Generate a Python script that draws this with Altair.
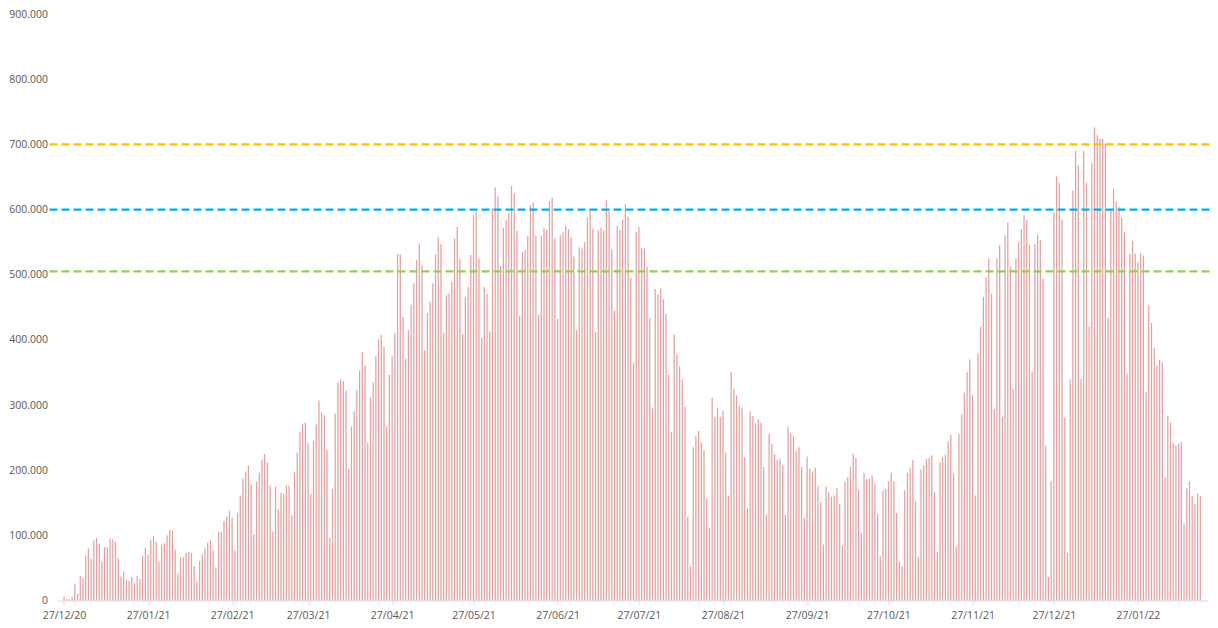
import altair as alt
import pandas as pd

# Daily values (thousands), one list per calendar month
dec20 = [6, 2, 2, 5, 26]
jan21 = [10, 38, 35, 69, 80, 64, 92, 96, 87, 60, 82, 82, 95, 94, 90, 65, 37, 44, 32, 30,
         36, 26, 38, 33, 69, 81, 71, 93, 99, 90, 59]
feb21 = [86, 88, 100, 108, 107, 78, 42, 66, 66, 73, 74, 73, 53, 29, 61, 71, 80, 89, 93, 77,
         51, 105, 106, 122, 129, 138, 127, 77]
mar21 = [135, 161, 187, 198, 207, 178, 102, 182, 196, 216, 225, 212, 177, 106, 175, 140, 165,
         164, 176, 176, 131, 197, 227, 258, 271, 273, 242, 164, 245, 270, 307]
apr21 = [289, 284, 231, 96, 171, 287, 335, 339, 337, 322, 202, 267, 290, 323, 353, 381, 361,
         242, 312, 335, 375, 401, 407, 389, 267, 346, 375, 411, 532, 531]
may21 = [435, 371, 415, 454, 487, 523, 548, 515, 384, 441, 459, 487, 531, 557, 547, 411, 468,
         471, 489, 556, 573, 525, 409, 466, 481, 530, 591, 597, 525, 403, 481]
jun21 = [470, 413, 602, 634, 620, 513, 572, 584, 595, 636, 625, 567, 437, 535, 538, 559, 607,
         611, 560, 438, 560, 572, 569, 613, 618, 556, 432, 561, 565, 575]
jul21 = [570, 557, 528, 415, 542, 540, 550, 587, 601, 571, 412, 568, 572, 568, 615, 597, 539,
         445, 575, 568, 585, 608, 589, 495, 365, 566, 573, 541, 540, 512, 433]
aug21 = [296, 478, 470, 479, 462, 440, 346, 259, 408, 378, 359, 339, 297, 128, 53, 235, 252,
         260, 243, 231, 156, 112, 311, 282, 295, 282, 291, 227, 161, 351, 325]
sep21 = [315, 299, 296, 220, 142, 290, 283, 272, 278, 273, 205, 132, 256, 240, 225, 216, 218,
         207, 131, 267, 256, 252, 230, 235, 205, 127, 221, 202, 198, 204]
oct21 = [176, 151, 86, 175, 166, 159, 161, 173, 148, 84, 183, 189, 205, 225, 219, 170, 104,
         196, 186, 187, 192, 179, 133, 68, 169, 171, 183, 196, 183, 134, 60]
nov21 = [52, 169, 196, 203, 216, 152, 67, 201, 207, 217, 219, 223, 166, 74, 212, 220, 224, 244,
         254, 195, 83, 256, 285, 319, 351, 370, 315, 161, 379, 420]
dec21 = [466, 496, 525, 471, 294, 525, 545, 282, 560, 580, 512, 325, 525, 550, 570, 591, 584,
         546, 351, 547, 562, 553, 494, 238, 36, 183, 596, 651, 641, 584, 281]
jan22 = [73, 339, 629, 690, 668, 340, 690, 641, 421, 671, 726, 714, 708, 708, 701, 434, 600,
         632, 612, 604, 587, 566, 348, 532, 552, 532, 519, 533, 529, 320, 452]
feb22 = [426, 388, 361, 369, 365, 189, 284, 273, 242, 238, 241, 243, 118, 172, 183, 160, 148,
         165, 160]

months = [dec20, jan21, feb21, mar21, apr21, may21, jun21, jul21, aug21, sep21, oct21,
          nov21, dec21, jan22, feb22]
first_day = "2020-12-27"

tick_dates = ["2020-12-27", "2021-01-27", "2021-02-27", "2021-03-27", "2021-04-27",
              "2021-05-27", "2021-06-27", "2021-07-27", "2021-08-27", "2021-09-27",
              "2021-10-27", "2021-11-27", "2021-12-27", "2022-01-27"]
y_ticks = [0, 100000, 200000, 300000, 400000, 500000, 600000, 700000, 800000, 900000]

ref_levels = [700000, 600000, 505000]
ref_colors = ["#FFC000", "#00B0F0", "#92D050"]

# ---- build tables ----
values_k = [v for m in months for v in m]
dates = pd.date_range(first_day, periods=len(values_k), freq="D")
df = pd.DataFrame({"date": dates.strftime("%Y-%m-%d"),
                   "doses": [v * 1000 for v in values_k]})
refs = pd.DataFrame({"level": ref_levels, "color": ref_colors})


def ms(ts):
    return int(pd.Timestamp(ts, tz="UTC").timestamp() * 1000)


DAY = 86400000
x_domain = [ms(first_day) - int(0.55 * DAY), ms(first_day) + int(419.8 * DAY)]
tick_ms = [ms(d) for d in tick_dates]

W = 1150
H = 586.5
FONT = "Open Sans"
GREY = "#595959"

x_enc = alt.X(
    "date:T",
    scale=alt.Scale(type="utc", domain=x_domain, nice=False),
    axis=alt.Axis(values=tick_ms, labelExpr="utcFormat(datum.value, '%d/%m/%y')", title=None,
                  grid=False, labelAngle=0, labelFlush=False, labelOverlap=False,
                  domainColor="#D9D9D9", tickColor="#D9D9D9", tickSize=4,
                  labelPadding=6, labelColor=GREY, labelFont=FONT, labelFontSize=10.5),
)
y_enc = alt.Y(
    "doses:Q",
    scale=alt.Scale(domain=[0, 900000], nice=False),
    axis=alt.Axis(values=y_ticks, labelExpr="replace(format(datum.value, ','), ',', '.')",
                  title=None, grid=False, domain=False, ticks=False, labelPadding=10,
                  labelColor=GREY, labelFont=FONT, labelFontSize=10.5),
)

bars = alt.Chart(df).mark_bar(size=1.25, color="#E5A0A0").encode(x=x_enc, y=y_enc)

rules = alt.Chart(refs).mark_rule(strokeDash=[8, 4], strokeWidth=2.25).encode(
    y=alt.Y("level:Q"),
    color=alt.Color("color:N", scale=None),
    x=alt.value(-8),
    x2=alt.value(W + 2),
)

chart = alt.layer(bars, rules).properties(
    width=W,
    height=H,
    autosize=alt.AutoSizeParams(type="none"),
    padding={"left": 49.5, "top": 6, "right": 2, "bottom": 23},
    background="white",
).configure_view(stroke=None)

chart.save("out.html", embed_options={"renderer": "svg", "actions": False})
